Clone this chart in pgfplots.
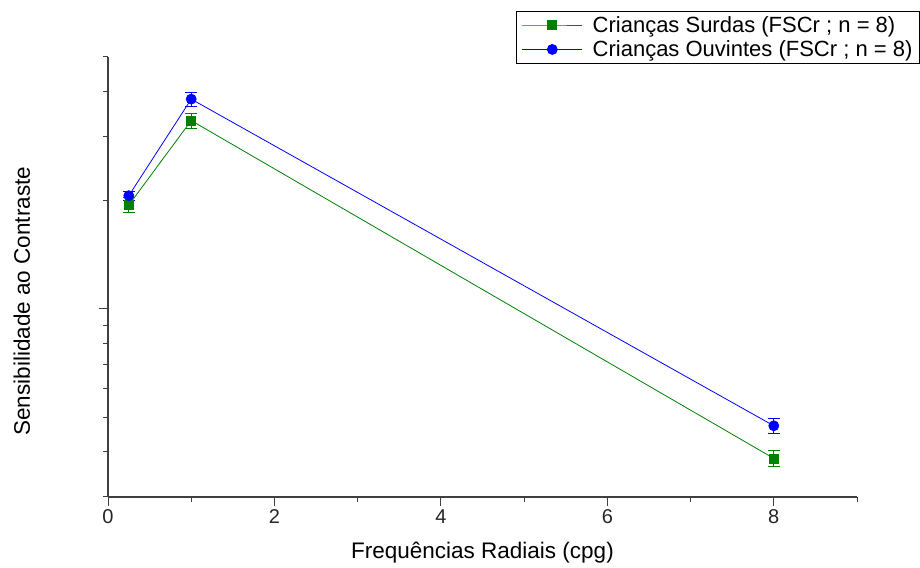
\documentclass[border=0pt]{standalone}
\usepackage{pgfplots}
\pgfplotsset{compat=1.18}
\usepackage{fontspec}
\setmainfont{Liberation Sans}
\definecolor{sgreen}{RGB}{0,128,0}
\definecolor{sblue}{RGB}{0,0,255}
\definecolor{axgray}{RGB}{64,64,64}
\begin{document}
\begin{tikzpicture}[x=1pt,y=1pt]
\path[use as bounding box] (0,0) rectangle (920,567);
\begin{axis}[
  at={(108pt,70pt)}, anchor=south west,
  scale only axis, width=749pt, height=440pt,
  xmin=0, xmax=9, ymode=log, ymin=30, ymax=500,
  axis x line*=bottom, axis y line*=left,
  axis line style={draw=axgray, line width=1.5pt},
  xtick={0,2,4,6,8}, minor xtick={1,3,5,7,9},
  ytick={100}, minor ytick={30,40,50,60,70,80,90,200,300,400,500},
  yticklabels={},
  tick align=outside, major tick length=9pt, minor tick length=5pt,
  tick style={draw=axgray, line width=1pt},
  /pgf/number format/assume math mode=true,
  xticklabel style={font=\fontsize{20}{22}\selectfont, color=black!85},
  xlabel={Frequências Radiais (cpg)},
  ylabel={Sensibilidade ao Contraste},
  label style={font=\fontsize{22.5}{26}\selectfont},
  xlabel style={at={(axis description cs:0.5,-0.127)}, anchor=center},
  ylabel style={at={(axis description cs:-0.115,0.445)}, anchor=center},
  legend style={at={(axis description cs:1.084,1.105)}, anchor=north east,
    draw=black, line width=1pt, font=\fontsize{22}{25}\selectfont,
    inner xsep=5pt, inner ysep=3pt, row sep=3pt, cells={anchor=west},
    /tikz/every odd column/.append style={column sep=8pt}},
  legend image code/.code={
    \draw[mark repeat=2,mark phase=2] plot coordinates {(0pt,0pt) (30pt,0pt) (60pt,0pt)};
  },
  clip=false,
]
\addplot+[sgreen, line width=0.8pt, mark=square*, mark size=4.5pt,
  mark options={fill=sgreen, draw=sgreen, solid},
  error bars/.cd, y dir=both, y explicit,
  error bar style={line width=1pt, sgreen},
  error mark options={rotate=90, mark size=6pt, line width=1pt, sgreen}]
  coordinates {
  (0.25,194) +- (0,9)
  (1,333) +- (0,16)
  (8,38.4) +- (0,2)
};
\addlegendentry{Crianças Surdas (FSCr ; n = 8)}
\addplot+[sblue, line width=0.8pt, mark=*, mark size=5pt,
  mark options={fill=sblue, draw=sblue, solid},
  error bars/.cd, y dir=both, y explicit,
  error bar style={line width=1pt, sblue},
  error mark options={rotate=90, mark size=6pt, line width=1pt, sblue}]
  coordinates {
  (0.25,206) +- (0,6)
  (1,382) +- (0,17)
  (8,47.3) +- (0,2.3)
};
\addlegendentry{Crianças Ouvintes (FSCr ; n = 8)}
\end{axis}
\end{tikzpicture}
\end{document}
